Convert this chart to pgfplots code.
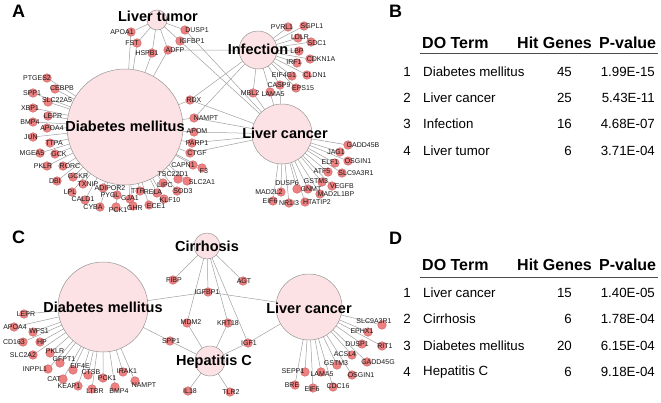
\documentclass[border=0pt]{standalone}
\usepackage{pgfplots}
\pgfplotsset{compat=1.18}
\usepackage{fontspec}
\setmainfont{Liberation Sans}
\definecolor{hubfill}{RGB}{252,226,228}
\definecolor{hubdraw}{RGB}{150,150,150}
\definecolor{genefill}{RGB}{238,128,128}
\definecolor{genedraw}{RGB}{200,100,100}
\definecolor{edgec}{RGB}{160,160,160}
\begin{document}
\begin{tikzpicture}
\begin{axis}[name=ax,
  width=661pt, height=402pt, scale only axis,
  xmin=0, xmax=661, ymin=0, ymax=402, y dir=reverse,
  axis lines=none, ticks=none, clip=false,
  edge/.style={draw=edgec, line width=0.5pt, mark=none, line join=round},
  gene/.style={only marks, mark=*, mark size=4.3pt, mark options={fill=genefill, draw=genedraw, line width=0.4pt}},
  hub/.style={only marks, mark=*, mark options={fill=hubfill, draw=hubdraw, line width=0.5pt}},
  lab/.style={draw=none, mark=none, nodes near coords, point meta=explicit symbolic,
     nodes near coords style={anchor=center, inner sep=0pt, text=black!90, font=\fontsize{7}{7}\selectfont}},
  hublab/.style={draw=none, mark=none, nodes near coords, point meta=explicit symbolic,
     nodes near coords style={anchor=center, inner sep=0pt, text=black, font=\fontsize{14.5}{15}\selectfont\bfseries}},
]
% ---------------- Panel A edges
\addplot[edge] coordinates {(157,20)(131,32)(157,20)(137,43)(157,20)(152,53)(157,20)(168,50)(157,20)(185,30)(157,20)(180,41)};
\addplot[edge] coordinates {(125,127)(131,32)(125,127)(137,43)(125,127)(152,53)(125,127)(168,50)(125,127)(47,78)(125,127)(55,89)(125,127)(33,93)(125,127)(48,102)(125,127)(33,108)(125,127)(48,116)(125,127)(33,122)(125,127)(47,128)(125,127)(33,137)(125,127)(50,143)(125,127)(40,153)(125,127)(55,154)(125,127)(47,166)(125,127)(63,166)(125,127)(57,181)(125,127)(73,177)(125,127)(83,184)(125,127)(72,192)(125,127)(85,200)(125,127)(103,188)(125,127)(117,195)(125,127)(130,199)(125,127)(140,191)(125,127)(157,193)(125,127)(100,207)(125,127)(116,207)(125,127)(133,206)(125,127)(149,205)(125,127)(164,199)(125,127)(177,191)(125,127)(163,183)(125,127)(178,179)(125,127)(187,181)(125,127)(193,165)(125,127)(202,168)(125,127)(190,153)(125,127)(192,143)(125,127)(194,132)(125,127)(194,118)(125,127)(190,100)};
\addplot[edge] coordinates {(258,50)(288,27)(258,50)(304,26)(258,50)(298,38)(258,50)(311,42)(258,50)(299,51)(258,50)(310,59)(258,50)(297,63)(258,50)(292,76)(258,50)(307,75)(258,50)(280,85)(258,50)(296,88)(258,50)(270,92)(258,50)(253,93)(258,50)(190,100)(258,50)(194,118)(258,50)(168,50)};
\addplot[edge] coordinates {(282,134)(348,145)(282,134)(340,152)(282,134)(348,161)(282,134)(335,163)(282,134)(328,172)(282,134)(342,173)(282,134)(322,182)(282,134)(332,186)(282,134)(297,189)(282,134)(308,189)(282,134)(281,192)(282,134)(320,194)(282,134)(273,201)(282,134)(289,203)(282,134)(305,202)(282,134)(185,30)(282,134)(180,41)(282,134)(194,118)(282,134)(194,132)(282,134)(192,143)(282,134)(190,153)(282,134)(190,100)(282,134)(253,93)(282,134)(280,85)(282,134)(270,92)};
% ---------------- Panel C edges
\addplot[edge] coordinates {(207,246)(173,280)(207,246)(208,292)(207,246)(187,323)(207,246)(228,323)(207,246)(243,281)(207,246)(248,343)};
\addplot[edge] coordinates {(210,361)(187,323)(210,361)(170,341)(210,361)(228,323)(210,361)(248,343)(210,361)(188,391)(210,361)(230,392)};
\addplot[edge] coordinates {(103,307)(24,314)(103,307)(14,327)(103,307)(33,332)(103,307)(23,342)(103,307)(40,342)(103,307)(33,355)(103,307)(50,353)(103,307)(48,369)(103,307)(60,363)(103,307)(73,370)(103,307)(63,379)(103,307)(88,375)(103,307)(78,386)(103,307)(103,378)(103,307)(92,389)(103,307)(123,372)(103,307)(115,387)(103,307)(135,381)(103,307)(208,292)(103,307)(170,341)};
\addplot[edge] coordinates {(309,307)(382,325)(309,307)(368,332)(309,307)(382,346)(309,307)(362,344)(309,307)(352,355)(309,307)(367,362)(309,307)(337,365)(309,307)(352,375)(309,307)(305,372)(309,307)(321,372)(309,307)(333,387)(309,307)(313,388)(309,307)(295,385)(309,307)(208,292)(309,307)(248,343)};
% ---------------- hubs
\addplot[hub, mark size=58pt] coordinates {(125,127)};
\addplot[hub, mark size=10pt] coordinates {(157,20)};
\addplot[hub, mark size=19pt] coordinates {(258,50)};
\addplot[hub, mark size=30pt] coordinates {(282,134)};
\addplot[hub, mark size=45pt] coordinates {(103,307)};
\addplot[hub, mark size=13pt] coordinates {(207,246)};
\addplot[hub, mark size=15pt] coordinates {(210,361)};
\addplot[hub, mark size=33pt] coordinates {(309,307)};
% ---------------- gene nodes
\addplot[gene] table {
x y
131 32
137 43
152 53
168 50
185 30
180 41
47 78
55 89
33 93
48 102
33 108
48 116
33 122
47 128
33 137
50 143
40 153
55 154
47 166
63 166
57 181
73 177
83 184
72 192
85 200
103 188
117 195
130 199
140 191
157 193
100 207
116 207
133 206
149 205
164 199
177 191
163 183
178 179
187 181
193 165
202 168
190 153
192 143
194 132
194 118
190 100
253 93
288 27
304 26
298 38
311 42
299 51
310 59
297 63
292 76
307 75
280 85
296 88
270 92
348 145
340 152
348 161
335 163
328 172
342 173
322 182
332 186
297 189
308 189
281 192
320 194
273 201
289 203
305 202
173 280
208 292
187 323
170 341
228 323
243 281
248 343
188 391
230 392
24 314
14 327
33 332
23 342
40 342
33 355
50 353
48 369
60 363
73 370
63 379
88 375
78 386
103 378
92 389
123 372
115 387
135 381
382 325
368 332
382 346
362 344
352 355
367 362
337 365
352 375
305 372
321 372
333 387
313 388
295 385
};
% ---------------- gene labels
\addplot[lab] table[meta=n] {
x y n
122 32 APOA1
132 43 FST
147 53 HSPB1
175 50 ADFP
197 30 DUSP1
192 41 IGFBP1
37 78 PTGES2
62 88 CEBPB
32 93 SPP1
57 100 SLC22A5
30 108 XBP1
53 116 LEPR
30 122 BMP4
52 128 APOA4
31 137 JUN
54 143 TTPA
32 153 MGEA5
59 154 GCK
43 166 PKLR
70 166 RORC
55 181 DBI
78 176 GCKR
88 184 TXNIP
70 192 LPL
83 199 CALD1
110 188 ADIPOR2
110 195 PYGL
130 198 GJA1
138 191 TTR
153 192 RELA
93 207 CYBA
118 210 PCK1
135 208 GHR
156 206 ECE1
170 200 KLF10
183 191 SOD3
165 185 LIPC
173 174 TSC22D1
202 182 SLC2A1
183 165 CAPN1
204 171 F3
197 153 CTGF
197 143 PARP1
197 131 APOM
206 118 NAMPT
194 100 RDX
250 93 MBL2
282 27 PVRL1
312 26 SGPL1
300 37 LDLR
317 43 SDC1
297 51 LBP
321 59 CDKN1A
294 62 IRF1
284 75 EIF4G1
315 75 CLDN1
279 85 CASP9
303 88 EPS15
273 94 LAMA5
363 145 GADD45B
336 152 JAG1
358 161 OSGIN1
330 162 ELF1
322 171 ATF5
356 173 SLC9A3R1
316 181 GSTM3
342 186 VEGFB
287 183 DUSP6
311 189 GNMT
269 192 MAD2L2
336 194 MAD2L1BP
270 201 EIF6
289 203 NR1I3
317 202 HTATIP2
174 280 FIBP
207 292 IGFBP1
191 322 MDM2
171 341 SPP1
228 323 KRT18
244 281 AGT
249 343 IGF1
190 391 IL18
231 392 TLR2
26 314 LEPR
15 327 APOA4
39 331 WFS1
14 342 CD163
42 342 HP
23 355 SLC2A2
55 351 PKLR
35 369 INPPL1
64 359 GFPT1
80 366 EIF4E
54 379 CAT
91 372 CTSB
69 386 KEAP1
107 378 PCK1
95 391 LTBR
127 371 IRAK1
119 391 BMP4
144 385 NAMPT
374 321 SLC9A3R1
362 331 EPHX1
385 346 RIT1
357 344 DUSP1
345 354 ACSL4
378 362 GADD45G
336 363 GSTM3
361 375 OSGIN1
293 371 SEPP1
322 374 LAMA5
338 386 CDC16
312 389 EIF6
292 385 BRE
};
% ---------------- hub labels
\addplot[hublab] table[meta=n] {
x y n
158 16 {Liver tumor}
258 49 {Infection}
125 126 {Diabetes mellitus}
285 133 {Liver cancer}
207 246 {Cirrhosis}
103 307 {Diabetes mellitus}
309 308 {Liver cancer}
214 362 {Hepatitis C}
};
% ---------------- panel letters
\node[anchor=west, font=\fontsize{18}{18}\selectfont\bfseries, inner sep=0pt] at (axis cs:12,11) {A};
\node[anchor=west, font=\fontsize{18}{18}\selectfont\bfseries, inner sep=0pt] at (axis cs:389,11) {B};
\node[anchor=west, font=\fontsize{18}{18}\selectfont\bfseries, inner sep=0pt] at (axis cs:12,237) {C};
\node[anchor=west, font=\fontsize{18}{18}\selectfont\bfseries, inner sep=0pt] at (axis cs:389,238) {D};
% ---------------- table B
\begin{scope}[every node/.style={inner sep=0pt, font=\fontsize{13.3}{14}\selectfont}]
\node[anchor=west, font=\fontsize{16}{16}\selectfont\bfseries] at (axis cs:422,43) {DO Term};
\node[anchor=west, font=\fontsize{16}{16}\selectfont\bfseries] at (axis cs:517,43) {Hit Genes};
\node[anchor=west, font=\fontsize{16}{16}\selectfont\bfseries] at (axis cs:599,43) {P-value};
\draw[black!70, line width=1pt] (axis cs:420,53) -- (axis cs:658,53);
\node at (axis cs:407,72) {1};
\node at (axis cs:407,98) {2};
\node at (axis cs:407,124) {3};
\node at (axis cs:407,151) {4};
\node[anchor=west] at (axis cs:423,72) {Diabetes mellitus};
\node[anchor=west] at (axis cs:423,98) {Liver cancer};
\node[anchor=west] at (axis cs:423,124) {Infection};
\node[anchor=west] at (axis cs:423,151) {Liver tumor};
\node[anchor=east] at (axis cs:572,72) {45};
\node[anchor=east] at (axis cs:572,98) {25};
\node[anchor=east] at (axis cs:572,124) {16};
\node[anchor=east] at (axis cs:572,151) {6};
\node[anchor=east] at (axis cs:655,72) {1.99E-15};
\node[anchor=east] at (axis cs:655,98) {5.43E-11};
\node[anchor=east] at (axis cs:655,124) {4.68E-07};
\node[anchor=east] at (axis cs:655,151) {3.71E-04};
% ---------------- table D
\node[anchor=west, font=\fontsize{16}{16}\selectfont\bfseries] at (axis cs:422,265) {DO Term};
\node[anchor=west, font=\fontsize{16}{16}\selectfont\bfseries] at (axis cs:517,265) {Hit Genes};
\node[anchor=west, font=\fontsize{16}{16}\selectfont\bfseries] at (axis cs:599,265) {P-value};
\draw[black!70, line width=1pt] (axis cs:420,277) -- (axis cs:658,277);
\node at (axis cs:407,293) {1};
\node at (axis cs:407,319) {2};
\node at (axis cs:407,346) {3};
\node at (axis cs:407,372) {4};
\node[anchor=west] at (axis cs:423,293) {Liver cancer};
\node[anchor=west] at (axis cs:423,319) {Cirrhosis};
\node[anchor=west] at (axis cs:423,346) {Diabetes mellitus};
\node[anchor=west] at (axis cs:423,372) {Hepatitis C};
\node[anchor=east] at (axis cs:572,293) {15};
\node[anchor=east] at (axis cs:572,319) {6};
\node[anchor=east] at (axis cs:572,346) {20};
\node[anchor=east] at (axis cs:572,372) {6};
\node[anchor=east] at (axis cs:655,293) {1.40E-05};
\node[anchor=east] at (axis cs:655,319) {1.78E-04};
\node[anchor=east] at (axis cs:655,346) {6.15E-04};
\node[anchor=east] at (axis cs:655,372) {9.18E-04};
\end{scope}
\end{axis}
\pgfresetboundingbox
\path[use as bounding box] (ax.south west) rectangle (ax.north east);
\end{tikzpicture}
\end{document}
